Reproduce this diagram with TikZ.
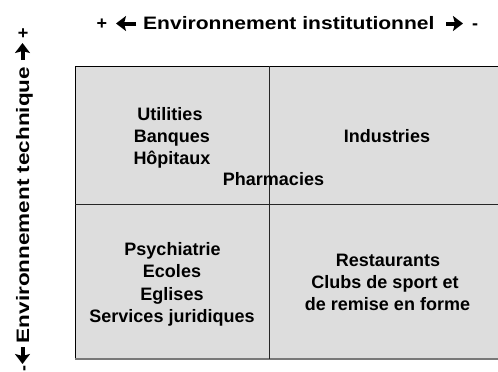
\documentclass[tikz,border=0pt]{standalone}
\usepackage{fontspec}
\setmainfont{Liberation Sans}
\usetikzlibrary{arrows.meta}
\definecolor{cellgray}{RGB}{221,221,221}
\definecolor{botline}{RGB}{120,120,120}
\begin{document}
\begin{tikzpicture}[x=1pt,y=-1pt,
  lbl/.style={font=\fontsize{18}{22}\selectfont\bfseries, inner sep=0pt, anchor=base},
  axislbl/.style={font=\fontsize{18}{20}\selectfont\bfseries, inner sep=0pt, anchor=base},
  bigarrow/.style={line width=4pt, -{Stealth[length=10pt,width=15pt,inset=2pt]}},
  gridline/.style={draw=black!85, line width=1pt}]
\useasboundingbox (0,0) rectangle (498,372);
% cells
\fill[cellgray] (75,66) rectangle (498,359);
\draw[black, line width=1pt] (498,66) -- (75,66) -- (75,359);
\draw[botline, line width=1.5pt] (75,359) -- (498,359);
\draw[gridline] (269,66) -- (269,359);
\draw[gridline] (75,204) -- (498,204);
% title
\node[axislbl] (plusA) at (102,29) {+};
\node[axislbl, anchor=base west] (title) at (143,29) {\scalebox{1.17}[1]{Environnement institutionnel}};
\node[axislbl] (minusA) at (475,29) {-};
\coordinate (la1) at (136,23.5); \coordinate (la2) at (116,23.5);
\coordinate (ra1) at (446,23.5); \coordinate (ra2) at (463,23.5);
\draw[bigarrow] (la1) -- (la2);
\draw[bigarrow] (ra1) -- (ra2);
% vertical axis
\node[axislbl, rotate=90] (vtitle) at (29,205) {\scalebox{1.25}[1]{Environnement technique}};
\node[axislbl, rotate=90] (plusB) at (29,33) {+};
\node[axislbl, rotate=90] (minusB) at (29,368) {-};
\coordinate (ua1) at (22.5,60); \coordinate (ua2) at (22.5,43);
\coordinate (da1) at (22.5,347); \coordinate (da2) at (22.5,364);
\draw[bigarrow] (ua1) -- (ua2);
\draw[bigarrow] (da1) -- (da2);
% cell texts
\node[lbl] (t1) at (170,120) {Utilities};
\node[lbl] (t2) at (172,142) {Banques};
\node[lbl] (t3) at (172,164) {Hôpitaux};
\node[lbl] (t4) at (273.5,185) {Pharmacies};
\node[lbl] (t5) at (387,142) {Industries};
\node[lbl] (t6) at (172.5,255) {Psychiatrie};
\node[lbl] (t7) at (172,277.5) {Ecoles};
\node[lbl] (t8) at (172,300) {Eglises};
\node[lbl] (t9) at (172,322) {Services juridiques};
\node[lbl] (t10) at (388,266.5) {Restaurants};
\node[lbl] (t11) at (385,288) {Clubs de sport et};
\node[lbl] (t12) at (387.5,310) {de remise en forme};
\end{tikzpicture}
\end{document}
